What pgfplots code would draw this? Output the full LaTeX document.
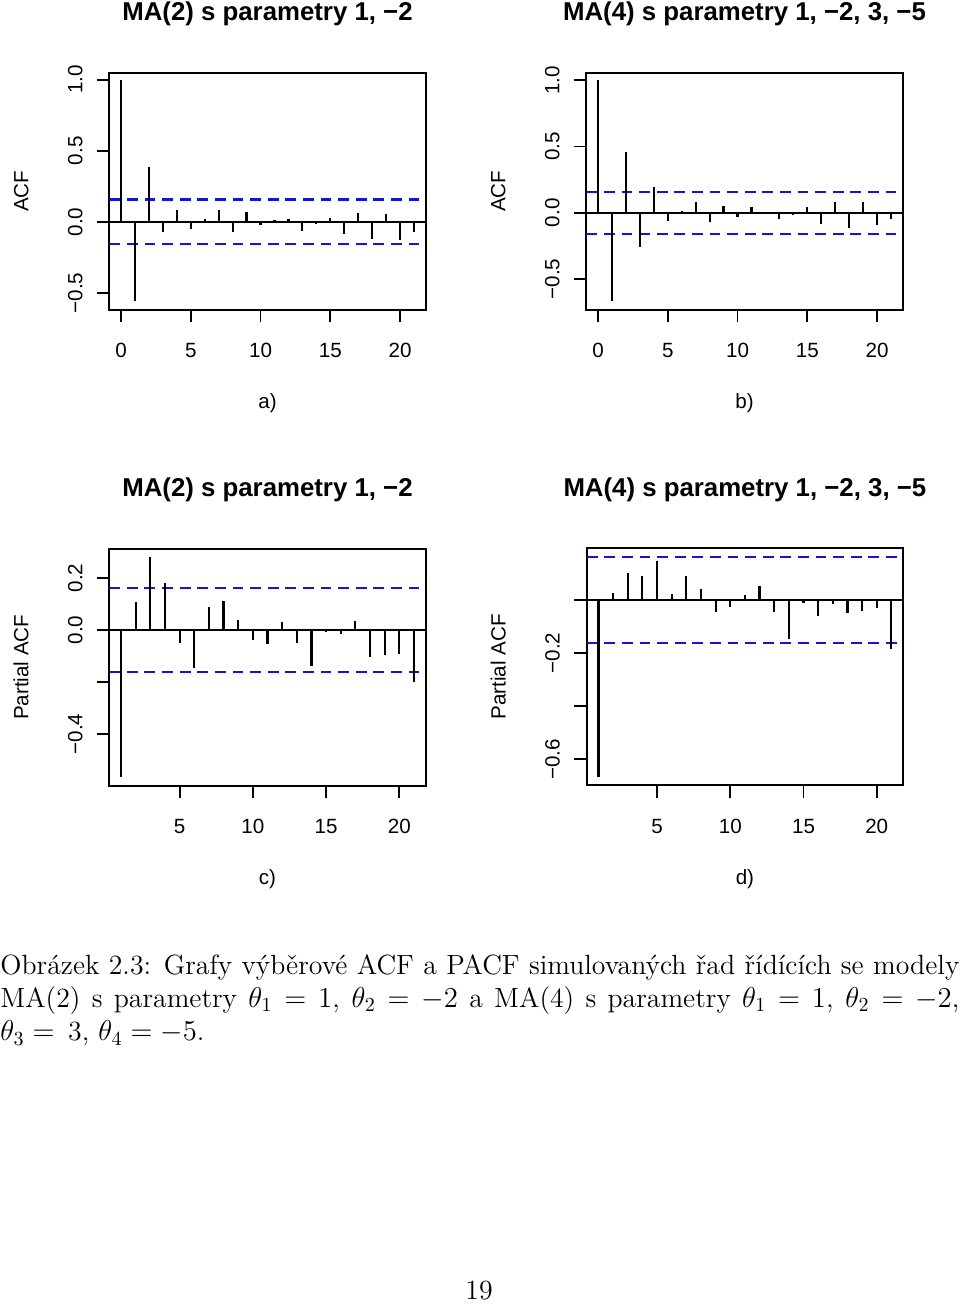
\documentclass[border=0pt]{standalone}
\usepackage{fontspec}
\usepackage{pgfplots}
\usepackage{pgfplotstable}
\pgfplotsset{compat=1.18}
\newfontfamily\helv{Liberation Sans}
\definecolor{rblue}{RGB}{20,20,215}

\pgfplotstableread{
lag val
0 1.0
1 -0.559
2 0.385
3 -0.070
4 0.082
5 -0.052
6 0.021
7 0.087
8 -0.068
9 0.068
10 -0.021
11 0.016
12 0.019
13 -0.061
14 -0.012
15 0.026
16 -0.087
17 0.066
18 -0.117
19 0.056
20 -0.124
21 -0.068
}\acfa
\pgfplotstableread{
lag val
0 1.0
1 -0.663
2 0.457
3 -0.261
4 0.193
5 -0.060
6 0.010
7 0.080
8 -0.073
9 0.055
10 -0.033
11 0.043
12 0.003
13 -0.045
14 -0.020
15 0.045
16 -0.088
17 0.080
18 -0.113
19 0.078
20 -0.095
21 -0.043
}\acfb
\pgfplotstableread{
lag val
1 -0.566
2 0.106
3 0.281
4 0.179
5 -0.050
6 -0.145
7 0.087
8 0.113
9 0.038
10 -0.037
11 -0.052
12 0.031
13 -0.049
14 -0.138
15 -0.009
16 -0.015
17 0.036
18 -0.102
19 -0.095
20 -0.091
21 -0.199
}\pacfc
\pgfplotstableread{
lag val
1 -0.666
2 0.0275
3 0.1025
4 0.090
5 0.145
6 0.021
7 0.089
8 0.0425
9 -0.045
10 -0.025
11 0.019
12 0.0525
13 -0.044
14 -0.1475
15 -0.0125
16 -0.061
17 -0.016
18 -0.051
19 -0.0425
20 -0.029
21 -0.185
}\pacfd

\pgfplotsset{
  rpanel/.style={
    scale only axis, width=158.2pt, height=118.5pt, anchor=north west,
    axis line style={line width=0.9pt},
    tick style={black, line width=0.9pt},
    tick align=outside, major tick length=6.3pt,
    xtick pos=bottom, ytick pos=left,
    tick label style={font=\fontsize{10.3}{12}\helv},
    label style={font=\fontsize{10.3}{12}\helv},
    xticklabel style={anchor=base},
    yticklabel style={rotate=90, anchor=base},
    xticklabel shift=17.7pt,
    yticklabel shift=7.2pt,
    title style={font=\fontsize{12.9}{14}\helv\bfseries, at={(axis description cs:0.5,1)}, anchor=base, yshift=20pt},
    xlabel style={at={(axis description cs:0.5,0)}, anchor=base, yshift=-49.5pt},
    ylabel style={at={(axis description cs:-0.256,0.5)}, anchor=base},
  },
  bars/.style={ycomb, black, line width=1.1pt, mark=none},
  ci/.style={rblue, line width=1.1pt, dash pattern=on 5.4pt off 3.4pt},
  zl/.style={black, line width=0.9pt},
}

\begin{document}
\begin{tikzpicture}
\path[use as bounding box] (0,0) rectangle (480pt,-652pt);

% a)
\begin{axis}[rpanel, at={(54.65pt,-36.35pt)},
  xmin=-0.84, xmax=21.84, ymin=-0.617, ymax=1.049,
  xtick={0,5,10,15,20}, xticklabels={0,5,10,15,20},
  ytick={-0.5,0,0.5,1}, yticklabels={−0.5,0.0,0.5,1.0},
  title={MA(2) s parametry 1, −2}, xlabel={a)}, ylabel={ACF}]
\addplot[zl] coordinates {(-0.84,0) (21.84,0)};
\addplot[ci] coordinates {(-0.84,0.158) (21.84,0.158)};
\addplot[ci] coordinates {(-0.84,-0.158) (21.84,-0.158)};
\addplot[bars] table[x=lag,y=val] {\acfa};
\end{axis}

% b)
\begin{axis}[rpanel, at={(293.15pt,-36.35pt)},
  xmin=-0.84, xmax=21.84, ymin=-0.731, ymax=1.057,
  xtick={0,5,10,15,20}, xticklabels={0,5,10,15,20},
  ytick={-0.5,0,0.5,1}, yticklabels={−0.5,0.0,0.5,1.0},
  title={MA(4) s parametry 1, −2, 3, −5}, xlabel={b)}, ylabel={ACF}]
\addplot[zl] coordinates {(-0.84,0) (21.84,0)};
\addplot[ci] coordinates {(-0.84,0.158) (21.84,0.158)};
\addplot[ci] coordinates {(-0.84,-0.158) (21.84,-0.158)};
\addplot[bars] table[x=lag,y=val] {\acfb};
\end{axis}

% c)
\begin{axis}[rpanel, at={(54.65pt,-274.35pt)},
  xmin=0.2, xmax=21.8, ymin=-0.598, ymax=0.312,
  xtick={5,10,15,20}, xticklabels={5,10,15,20},
  ytick={-0.4,-0.2,0,0.2}, yticklabels={−0.4,,0.0,0.2},
  title={MA(2) s parametry 1, −2}, xlabel={c)}, ylabel={Partial ACF}]
\addplot[zl] coordinates {(0.2,0) (21.8,0)};
\addplot[ci] coordinates {(0.2,0.161) (21.8,0.161)};
\addplot[ci] coordinates {(0.2,-0.161) (21.8,-0.161)};
\addplot[bars] table[x=lag,y=val] {\pacfc};
\end{axis}

% d)
\begin{axis}[rpanel, at={(293.35pt,-274.15pt)},
  xmin=0.2, xmax=21.8, ymin=-0.6975, ymax=0.194,
  xtick={5,10,15,20}, xticklabels={5,10,15,20},
  ytick={-0.6,-0.4,-0.2,0}, yticklabels={−0.6,,−0.2,},
  title={MA(4) s parametry 1, −2, 3, −5}, xlabel={d)}, ylabel={Partial ACF}]
\addplot[zl] coordinates {(0.2,0) (21.8,0)};
\addplot[ci] coordinates {(0.2,0.161) (21.8,0.161)};
\addplot[ci] coordinates {(0.2,-0.161) (21.8,-0.161)};
\addplot[bars] table[x=lag,y=val] {\pacfd};
\end{axis}

\node[anchor=north west, inner sep=0pt, text width=479.5pt, align=justify,
  font=\fontsize{13.9}{16.7}\selectfont] at (0pt,-475.2pt)
  {\strut Obrázek 2.3: Grafy výběrové ACF a PACF simulovaných řad řídících se modely\linebreak
   MA(2) s parametry $\theta_1 = 1$, $\theta_2 = -2$ a MA(4) s parametry $\theta_1 = 1$, $\theta_2 = -2$,\linebreak
   $\theta_3 =$ \,3, $\theta_4 = -5$.};

\node[anchor=base, inner sep=0pt, font=\fontsize{13.9}{16.7}\selectfont] at (239.5pt,-649.5pt) {19};
\end{tikzpicture}
\end{document}
